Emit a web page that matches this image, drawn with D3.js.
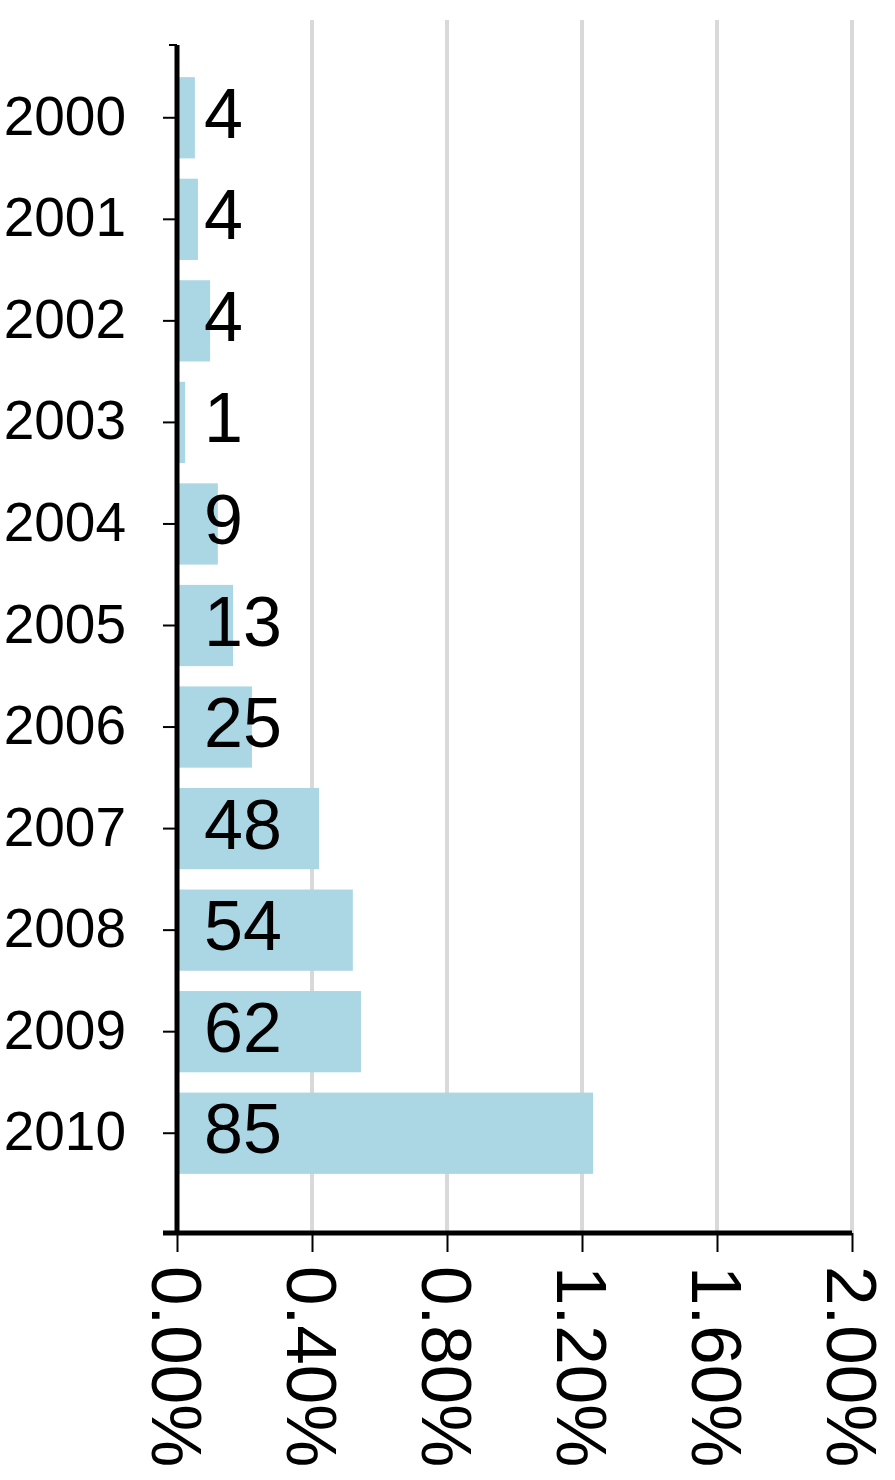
<!DOCTYPE html>
<html>
<head>
<meta charset="utf-8">
<script src="https://cdn.jsdelivr.net/npm/d3@7"></script>
<style>
  html, body { margin: 0; padding: 0; background: #fff; }
  svg { display: block; }
  text { font-family: "Liberation Sans", Arial, sans-serif; fill: #000; }
</style>
</head>
<body>
<div id="chart"></div>
<script>
// Years on the category axis
const years = ["2000", "2001", "2002", "2003", "2004", "2005", "2006", "2007", "2008", "2009", "2010"];
// Share per year, in percent (bar length)
const shares = [0.053, 0.062, 0.098, 0.024, 0.121, 0.166, 0.222, 0.421, 0.521, 0.545, 1.233];
// Count printed on each bar
const counts = [4, 4, 4, 1, 9, 13, 25, 48, 54, 62, 85];
// Value-axis ticks, in percent
const xTicks = [0, 0.4, 0.8, 1.2, 1.6, 2.0];

const W = 895, H = 1480;
const svg = d3.select("#chart").append("svg")
  .attr("width", W).attr("height", H);

const plot = { left: 177, right: 852, top: 45, bottom: 1233, gridTop: 20 };

const x = d3.scaleLinear().domain([0, 2.0]).range([plot.left, plot.right]);
const y = d3.scaleBand().domain(years).range([67, 1184])
  .paddingInner(0.2).paddingOuter(0.1);

// vertical gridlines
svg.append("g").selectAll("line")
  .data(xTicks.filter(d => d > 0))
  .join("line")
  .attr("x1", d => x(d)).attr("x2", d => x(d))
  .attr("y1", plot.gridTop).attr("y2", plot.bottom)
  .attr("stroke", "#d9d9d9").attr("stroke-width", 4);

// bars
const data = years.map((yr, i) => ({ year: yr, share: shares[i], count: counts[i] }));
svg.append("g").selectAll("rect")
  .data(data)
  .join("rect")
  .attr("x", x(0))
  .attr("y", d => y(d.year))
  .attr("width", d => x(d.share) - x(0))
  .attr("height", y.bandwidth())
  .attr("fill", "#abd6e4");

// count labels
svg.append("g").selectAll("text")
  .data(data)
  .join("text")
  .attr("x", x(0) + 27)
  .attr("y", d => y(d.year) + y.bandwidth() / 2 + 20)
  .attr("font-size", 70)
  .text(d => d.count);

// category axis
const yAxis = d3.axisLeft(y).tickSize(14).tickPadding(37).tickSizeOuter(0);
const gy = svg.append("g").attr("transform", `translate(${plot.left},0)`).call(yAxis);
gy.select(".domain").remove();
gy.selectAll(".tick line").attr("stroke", "#000").attr("stroke-width", 2);
gy.selectAll(".tick text")
  .attr("font-size", 55)
  .attr("font-family", "'Liberation Sans', Arial, sans-serif")
  .attr("fill", "#000")
  .attr("dy", null)
  .attr("y", 17);

// value axis
const xAxis = d3.axisBottom(x).tickValues(xTicks).tickSize(19).tickSizeOuter(0)
  .tickFormat(d => d3.format(".2f")(d) + "%");
const gx = svg.append("g").attr("transform", `translate(0,${plot.bottom})`).call(xAxis);
gx.select(".domain").remove();
gx.selectAll(".tick line").attr("stroke", "#000").attr("stroke-width", 2);
gx.selectAll(".tick text")
  .attr("font-size", 71)
  .attr("font-family", "'Liberation Sans', Arial, sans-serif")
  .attr("fill", "#000")
  .attr("text-anchor", "start")
  .attr("y", null).attr("dy", null)
  .attr("transform", "translate(0,33) rotate(90)")
  .attr("dy", "0.36em");

// axis lines
svg.append("line")
  .attr("x1", plot.left).attr("x2", plot.left)
  .attr("y1", plot.top).attr("y2", plot.bottom + 2)
  .attr("stroke", "#000").attr("stroke-width", 5);
svg.append("line")
  .attr("x1", plot.left - 14).attr("x2", plot.right)
  .attr("y1", plot.bottom).attr("y2", plot.bottom)
  .attr("stroke", "#000").attr("stroke-width", 5);
svg.append("line")
  .attr("x1", plot.left - 8).attr("x2", plot.left)
  .attr("y1", plot.top).attr("y2", plot.top)
  .attr("stroke", "#000").attr("stroke-width", 2);
</script>
</body>
</html>
